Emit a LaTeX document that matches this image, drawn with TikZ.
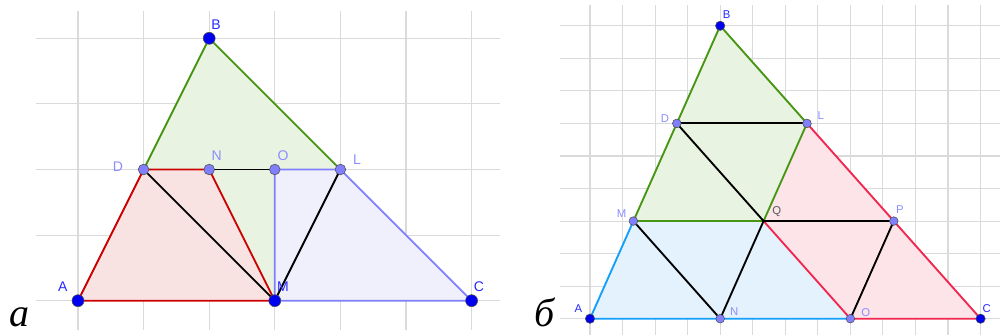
\documentclass[tikz,border=0pt]{standalone}
\usepackage{fontspec}
\setmainfont{Liberation Serif}
\setsansfont{Liberation Sans}
\definecolor{gridc}{RGB}{218,218,218}
\definecolor{gline}{RGB}{70,150,20}
\definecolor{gfill}{RGB}{233,243,225}
\definecolor{rlineA}{RGB}{204,0,0}
\definecolor{rfillA}{RGB}{248,226,226}
\definecolor{blineA}{RGB}{128,128,255}
\definecolor{bfillA}{RGB}{240,240,252}
\definecolor{rlineB}{RGB}{240,40,80}
\definecolor{rfillB}{RGB}{253,228,233}
\definecolor{blineB}{RGB}{20,160,250}
\definecolor{bfillB}{RGB}{228,242,253}
\definecolor{freept}{RGB}{0,0,240}
\definecolor{deppt}{RGB}{128,128,255}
\definecolor{freelab}{RGB}{40,40,255}
\definecolor{deplab}{RGB}{140,140,255}
\tikzset{
  gridline/.style={draw=gridc, line width=0.8pt},
  seg/.style={line width=1.4pt, line cap=round, line join=round},
  freedot/.style={circle, fill=freept, draw=black!70, line width=0.4pt, inner sep=0pt, minimum size=#1},
  depdot/.style={circle, fill=deppt, draw=black!70, line width=0.4pt, inner sep=0pt, minimum size=#1},
  flab/.style={text=freelab, font=\sffamily\fontsize{#1}{#1}\selectfont, inner sep=0pt},
  dlab/.style={text=deplab, font=\sffamily\fontsize{#1}{#1}\selectfont, inner sep=0pt},
  panellab/.style={font=\itshape\fontsize{30}{30}\selectfont, inner sep=0pt, anchor=base west}
}
\begin{document}
\begin{tikzpicture}[x=0.75pt, y=-0.75pt]
\useasboundingbox (0,0) rectangle (1000,335);
% ---------------- panel a ----------------
\begin{scope}[shift={(78,300.7)}, x=49.2pt, y=49.2pt]
  \foreach \j in {0,...,4} \draw[gridline] (-0.64,\j) -- (6.43,\j);
  \foreach \i in {0,...,6} \draw[gridline] (\i,-0.45) -- (\i,4.42);
  \coordinate (aA) at (0,0);
  \coordinate (aM) at (3,0);
  \coordinate (aC) at (6,0);
  \coordinate (aB) at (2,4);
  \coordinate (aD) at (1,2);
  \coordinate (aN) at (2,2);
  \coordinate (aO) at (3,2);
  \coordinate (aL) at (4,2);
  \fill[gfill] (aB) -- (aL) -- (aO) -- (aM) -- (aN) -- (aD) -- cycle;
  \fill[rfillA] (aA) -- (aD) -- (aN) -- (aM) -- cycle;
  \fill[bfillA] (aO) -- (aL) -- (aC) -- (aM) -- cycle;
  \draw[seg, gline] (aD) -- (aB) -- (aL);
  \draw[seg, blineA] (aO) -- (aL) -- (aC) -- (aM) -- (aO);
  \draw[seg, rlineA] (aA) -- (aD) -- (aN) -- (aM) -- cycle;
  \draw[seg, black] (aN) -- (aO);
  \draw[seg, black] (aD) -- (aM) -- (aL);
  \node[freedot=9pt] (pA) at (aA) {};
  \node[freedot=9pt] (pM) at (aM) {};
  \node[freedot=9pt] (pC) at (aC) {};
  \node[freedot=9pt] (pB) at (aB) {};
  \node[depdot=8pt] (pD) at (aD) {};
  \node[depdot=8pt] (pN) at (aN) {};
  \node[depdot=8pt] (pO) at (aO) {};
  \node[depdot=8pt] (pL) at (aL) {};
\end{scope}
\node[flab=10.5] (lB) at (216,25) {B};
\node[dlab=10.5] (lN) at (216.7,156) {N};
\node[dlab=10.5] (lO) at (283,156) {O};
\node[dlab=10.5] (lL) at (357,160) {L};
\node[dlab=10.5] (lD) at (118,167) {D};
\node[flab=10.5] (lA) at (62.7,287) {A};
\node[flab=10.5] (lM) at (283,287) {M};
\node[flab=10.5] (lC) at (479,287) {C};
\node[panellab] (ta) at (9,326) {а};
% ---------------- panel b ----------------
\begin{scope}[shift={(590,318.7)}, x=24.41pt, y=24.41pt]
  \foreach \j in {0,...,9} \draw[gridline] (-0.92,\j) -- (12.6,\j);
  \foreach \i in {0,...,12} \draw[gridline] (\i,-0.52) -- (\i,9.64);
  \coordinate (bA) at (0,0);
  \coordinate (bN) at (4,0);
  \coordinate (bO) at (8,0);
  \coordinate (bC) at (12,0);
  \coordinate (bB) at (4,9);
  \coordinate (bD) at (8/3,6);
  \coordinate (bL) at (20/3,6);
  \coordinate (bM) at (4/3,3);
  \coordinate (bQ) at (16/3,3);
  \coordinate (bP) at (28/3,3);
  \fill[gfill] (bB) -- (bD) -- (bM) -- (bQ) -- (bL) -- cycle;
  \fill[bfillB] (bA) -- (bO) -- (bQ) -- (bM) -- cycle;
  \fill[rfillB] (bL) -- (bC) -- (bO) -- (bQ) -- cycle;
  \draw[seg, blineB] (bM) -- (bA) -- (bO);
  \draw[seg, rlineB] (bQ) -- (bO) -- (bC) -- (bL);
  \draw[seg, gline] (bB) -- (bD) -- (bM) -- (bQ) -- (bL) -- cycle;
  \draw[seg, black] (bD) -- (bL);
  \draw[seg, black] (bD) -- (bQ) -- (bP) -- (bO);
  \draw[seg, black] (bM) -- (bN) -- (bQ);
  \node[freedot=7pt] (qA) at (bA) {};
  \node[freedot=7pt] (qB) at (bB) {};
  \node[freedot=7pt] (qC) at (bC) {};
  \node[depdot=6.5pt] (qN) at (bN) {};
  \node[depdot=6.5pt] (qO) at (bO) {};
  \node[depdot=6.5pt] (qD) at (bD) {};
  \node[depdot=6.5pt] (qL) at (bL) {};
  \node[depdot=6.5pt] (qM) at (bM) {};
  \node[depdot=6.5pt] (qP) at (bP) {};
  \node[circle, fill=black, inner sep=0pt, minimum size=2.5pt] (qQ) at (bQ) {};
\end{scope}
\node[flab=8.5] (mB) at (726.7,15) {B};
\node[dlab=8.5] (mD) at (665,119) {D};
\node[dlab=8.5] (mL) at (820.7,116) {L};
\node[dlab=8.5] (mM) at (621.7,213.3) {M};
\node[text=black!65, font=\sffamily\fontsize{8.5}{8.5}\selectfont, inner sep=0pt] (mQ) at (776.7,211.7) {Q};
\node[dlab=8.5] (mP) at (900,210) {P};
\node[flab=8.5] (mA) at (578.3,308.3) {A};
\node[dlab=8.5] (mN) at (734.3,311.7) {N};
\node[dlab=8.5] (mO) at (865.7,312.7) {O};
\node[flab=8.5] (mC) at (986.7,308.3) {C};
\node[panellab] (tb) at (534,326) {б};
\end{tikzpicture}
\end{document}
